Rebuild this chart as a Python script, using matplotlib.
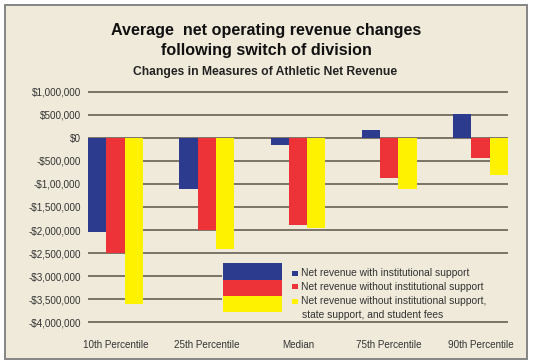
import numpy as np
import matplotlib.pyplot as plt
from matplotlib.patches import Rectangle

plt.rcParams['font.family'] = ['Liberation Sans', 'DejaVu Sans']

categories = ['10th Percentile', '25th Percentile', 'Median', '75th Percentile', '90th Percentile']
with_support = [-2050000, -1100000, -160000, 170000, 530000]
without_support = [-2500000, -2000000, -1890000, -880000, -440000]
without_all = [-3600000, -2420000, -1960000, -1100000, -800000]
series_names = ['Net revenue with institutional support',
                'Net revenue without institutional support',
                'Net revenue without institutional support,']
yticks = [1000000, 500000, 0, -500000, -1000000, -1500000, -2000000,
          -2500000, -3000000, -3500000, -4000000]
ytick_labels = ['$1,000,000', '$500,000', '$0', '-$500,000', '-$1,00,000',
                '-$1,500,000', '-$2,000,000', '-$2,500,000', '-$3,000,000',
                '-$3,500,000', '-$4,000,000']

W, H = 533, 364
bg = '#EFEADA'
blue, red, yellow = '#2D3B8F', '#EE3338', '#FFF200'
grid_c = '#7B7365'
txt_c = '#333333'

fig = plt.figure(figsize=(W / 100, H / 100), dpi=100)
fig.patch.set_facecolor('white')

def px(x, y):
    return x / W, 1 - y / H

# beige frame
fig.patches.append(Rectangle(px(5, 359), 522 / W, 354 / H, transform=fig.transFigure,
                             facecolor=bg, edgecolor='#858585', lw=1.4, zorder=-1))

# axes placement: data x -0.3..4.3 -> px 88..508, y -4.02M..1.02M
ax = fig.add_axes([88 / W, 1 - 323 / H, 420 / W, 232 / H])
ax.set_facecolor('none')
x = np.arange(len(categories))
w = 0.2
ax.bar(x - w, with_support, w, color=blue, zorder=2)
ax.bar(x, without_support, w, color=red, zorder=2)
ax.bar(x + w, without_all, w, color=yellow, zorder=2)
for t in yticks:
    ax.axhline(t, color=grid_c, lw=1.4, zorder=1)
ax.set_xlim(-0.3, 4.3)
ax.set_ylim(-4.02e6, 1.02e6)
ax.set_yticks(yticks)
ax.set_yticklabels(ytick_labels)
ax.set_xticks(x)
ax.set_xticklabels(categories)
ax.tick_params(length=0, labelsize=7.1, colors=txt_c)
ax.tick_params(axis='y', pad=5)
ax.tick_params(axis='x', pad=12)
for s in ax.spines.values():
    s.set_visible(False)

# titles
fig.text(*px(266, 31), 'Average  net operating revenue changes', ha='center', va='center',
         fontsize=11.6, fontweight='bold', color='#111111')
fig.text(*px(266, 51), 'following switch of division', ha='center', va='center',
         fontsize=11.6, fontweight='bold', color='#111111')
fig.text(*px(265, 72), 'Changes in Measures of Athletic Net Revenue', ha='center', va='center',
         fontsize=8.7, fontweight='bold', color='#222222')

# legend
fig.patches.append(Rectangle(px(222, 318), 287 / W, 56 / H, transform=fig.transFigure,
                             facecolor=bg, edgecolor='none', zorder=2))
colors = [blue, red, yellow]
stripes = [(263, 279.5), (279.5, 295.5), (295.5, 312)]
for c, (y0, y1) in zip(colors, stripes):
    fig.patches.append(Rectangle(px(223, y1), 59 / W, (y1 - y0) / H,
                                 transform=fig.transFigure, facecolor=c, edgecolor='none', zorder=3))
rows = [273.5, 286.5, 301.5]
for c, y, name in zip(colors, rows, series_names):
    fig.patches.append(Rectangle(px(292, y + 2.8), 5.5 / W, 5.5 / H,
                                 transform=fig.transFigure, facecolor=c, edgecolor='none', zorder=3))
    fig.text(*px(301, y), name, ha='left', va='center', fontsize=7.4, color=txt_c, zorder=4)
fig.text(*px(302, 314.5), 'state support, and student fees', ha='left', va='center',
         fontsize=7.4, color=txt_c, zorder=4)

fig.savefig('out.png', dpi=100, facecolor='white')
